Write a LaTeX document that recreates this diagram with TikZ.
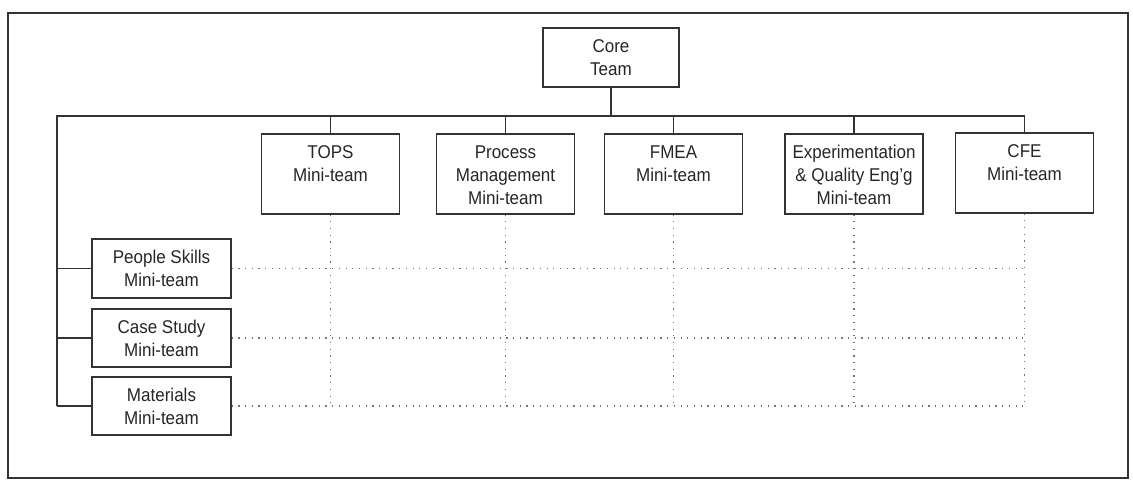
\documentclass[tikz,border=0pt]{standalone}
\usepackage{fontspec}
\setmainfont{Liberation Sans}[FakeStretch=0.92]
\begin{document}
\begin{tikzpicture}[x=1pt,y=-1pt,
  ink/.style={draw=black!80, line width=1.2pt},
  teambox/.style={ink, rectangle, inner sep=0pt, minimum width=138pt},
  teamtext/.style={anchor=north, inner sep=0pt, align=center,
    font=\fontsize{18.5}{23}\selectfont, text=black!85},
  link/.style={ink},
  grid/.style={draw=black!55, line width=1.1pt, dash pattern=on 1.2pt off 5.5pt}]
\useasboundingbox (0,0) rectangle (1133,481);
% outer frame
\draw[draw=black!80, line width=1.6pt] (8,13) rectangle (1128,478);

% core team
\node[teambox, minimum width=136pt, minimum height=59pt] (core) at (611,57.5) {};
% mini-teams along the top
\node[teambox, minimum height=80pt] (tops) at (330.5,174) {};
\node[teambox, minimum height=80pt] (proc) at (505.5,174) {};
\node[teambox, minimum height=80pt] (fmea) at (673.5,174) {};
\node[teambox, minimum height=80pt] (expq) at (854,174) {};
\node[teambox, minimum height=80pt] (cfe) at (1024.5,173) {};
% mini-teams down the left side
\node[teambox, minimum width=139pt, minimum height=59pt] (people) at (161.5,268.5) {};
\node[teambox, minimum width=139pt, minimum height=58pt] (case) at (161.5,338) {};
\node[teambox, minimum width=139pt, minimum height=58pt] (mat) at (161.5,406) {};

% box texts, hung from the top edge of each box
\newcommand{\boxtext}[2]{\node[teamtext] at ([yshift=-8.5pt]#1.north) {#2};}
\boxtext{core}{\strut Core\\\strut Team}
\boxtext{tops}{\strut TOPS\\\strut Mini-team}
\boxtext{proc}{\strut Process\\\strut Management\\\strut Mini-team}
\boxtext{fmea}{\strut FMEA\\\strut Mini-team}
\boxtext{expq}{\strut Experimentation\\\strut \& Quality Eng'g\\\strut Mini-team}
\boxtext{cfe}{\strut CFE\\\strut Mini-team}
\boxtext{people}{\strut People Skills\\\strut Mini-team}
\boxtext{case}{\strut Case Study\\\strut Mini-team}
\boxtext{mat}{\strut Materials\\\strut Mini-team}

% solid reporting lines
\coordinate (busL) at (57,116);
\coordinate (busR) at (cfe.north |- busL);
\coordinate (busB) at (busL |- mat.west);
\draw[link] (core.south) -- (core.south |- busL);
\draw[link] (busB) -- (busL) -- (busR) -- (cfe.north);
\foreach \t in {tops,proc,fmea,expq}
  \draw[link] (\t.north |- busL) -- (\t.north);
\foreach \s in {people,case,mat}
  \draw[link] (busL |- \s.west) -- (\s.west);

% dotted matrix links
\foreach \t in {tops,proc,fmea,expq,cfe}
  \draw[grid] (\t.south) -- (\t.south |- mat.east);
\foreach \s in {people,case,mat}
  \draw[grid] (\s.east) -- (\s.east -| cfe.south);
\end{tikzpicture}
\end{document}
